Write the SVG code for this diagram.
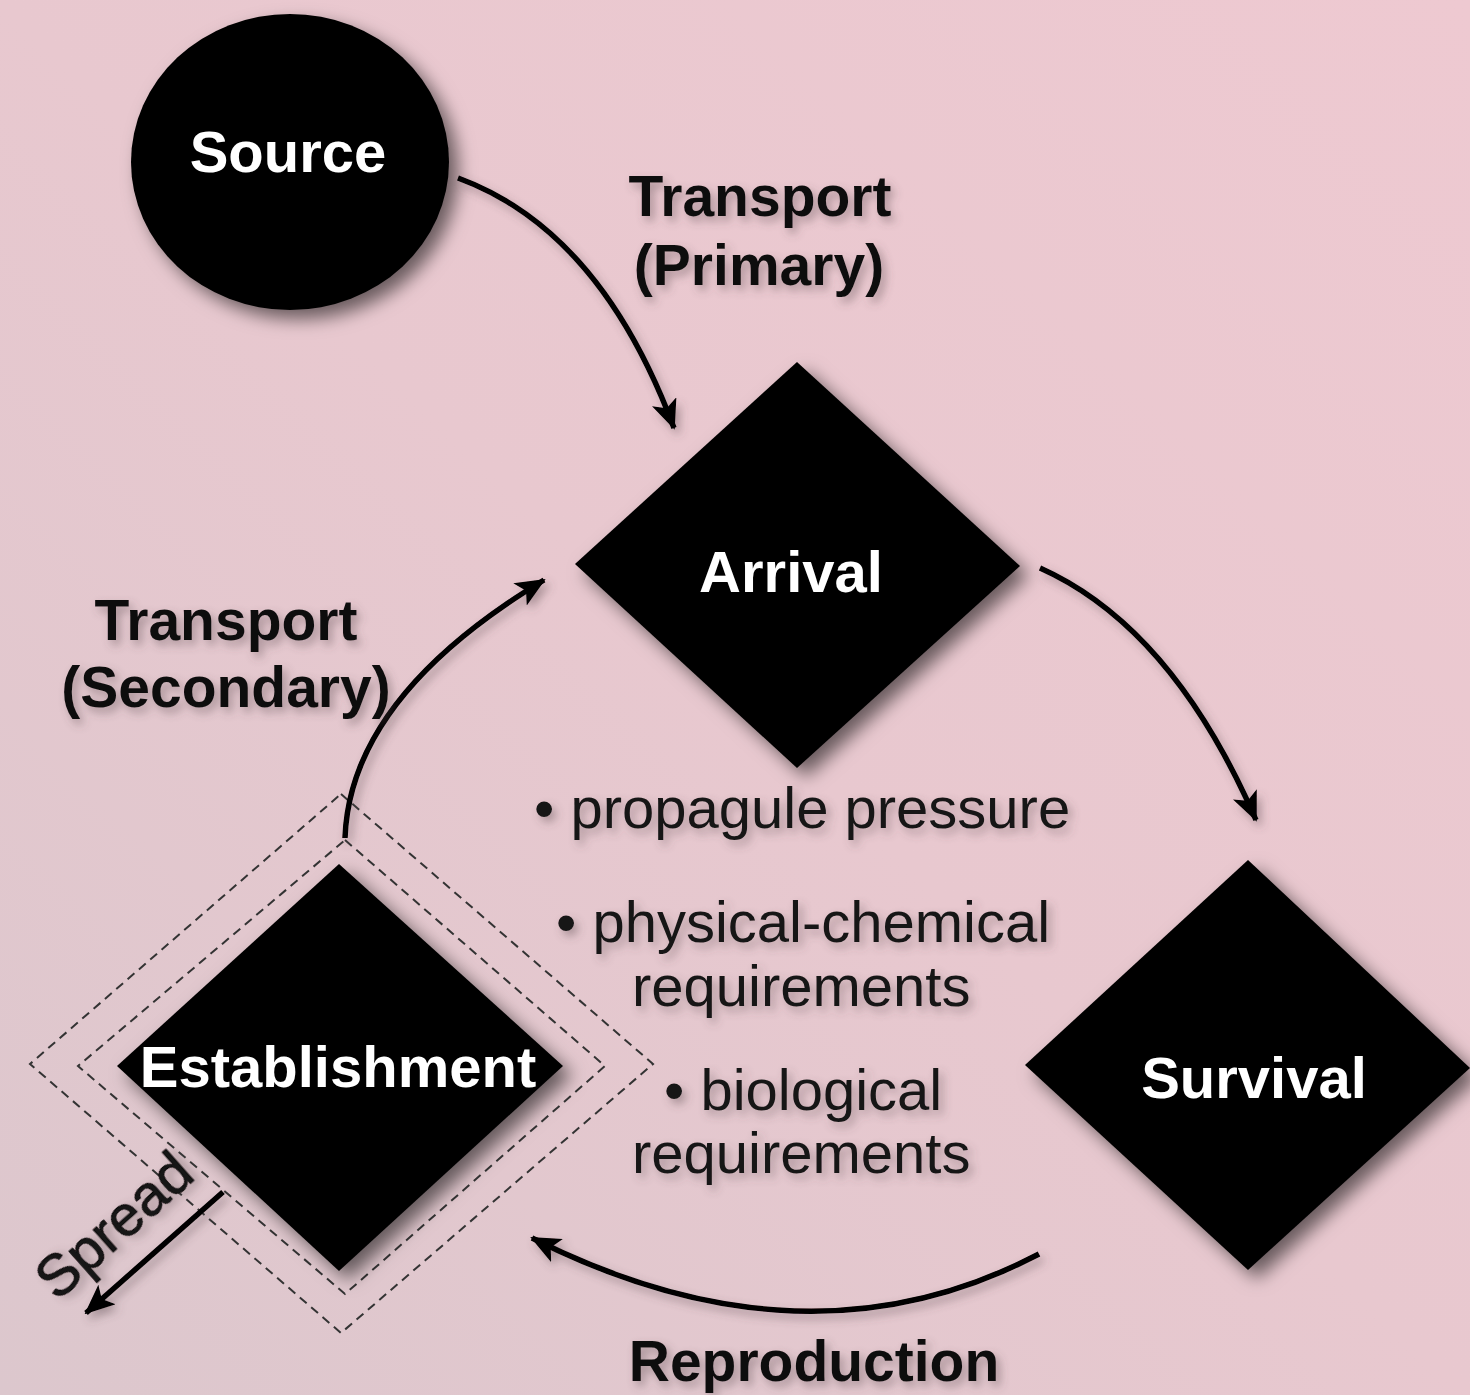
<svg xmlns="http://www.w3.org/2000/svg" width="1470" height="1395" viewBox="0 0 1470 1395">
<defs>
<linearGradient id="bg" x1="1" y1="0" x2="0" y2="1">
<stop offset="0" stop-color="#EEC9D1"/>
<stop offset="0.5" stop-color="#E8C8CF"/>
<stop offset="1" stop-color="#DCC7CD"/>
</linearGradient>
<filter id="sh" x="-20%" y="-20%" width="150%" height="150%">
<feDropShadow dx="9" dy="9" stdDeviation="9" flood-color="#000" flood-opacity="0.55"/>
</filter>
<filter id="tsh" x="-20%" y="-40%" width="140%" height="180%">
<feDropShadow dx="4" dy="5" stdDeviation="5" flood-color="#5a4a50" flood-opacity="0.45"/>
</filter>
<marker id="ah" markerUnits="userSpaceOnUse" markerWidth="30" markerHeight="26" refX="28" refY="13" orient="auto">
<path d="M0,0 L30,13 L0,26 L7,13 Z" fill="#000"/>
</marker>
<style>
.node{fill:#000;filter:url(#sh)}
.nl{font-family:"Liberation Sans",Arial,sans-serif;font-weight:bold;font-size:58px;fill:#fff;text-anchor:middle}
.lb{font-family:"Liberation Sans",Arial,sans-serif;font-weight:bold;font-size:57px;fill:#111;text-anchor:middle;filter:url(#tsh)}
.bt{font-family:"Liberation Sans",Arial,sans-serif;font-size:58px;fill:#151515;filter:url(#tsh)}
.cn{fill:none;stroke:#000;stroke-width:5.5;marker-end:url(#ah);filter:url(#tsh)}
.dash{fill:none;stroke:#333;stroke-width:2;stroke-dasharray:9 6}
</style>
</defs>
<rect width="1470" height="1395" fill="url(#bg)"/>

<g id="source">
<ellipse class="node" cx="290" cy="162" rx="159" ry="148"/>
<text class="nl" x="288" y="172">Source</text>
</g>

<g id="arrival">
<polygon class="node" points="797,362 1020,566 797,768 575,564"/>
<text class="nl" x="791" y="592">Arrival</text>
</g>

<g id="survival">
<polygon class="node" points="1248,860 1470,1068 1248,1270 1025,1065"/>
<text class="nl" x="1254" y="1098">Survival</text>
</g>

<g id="establishment">
<polygon class="dash" points="341,794 653,1064 341,1333 30,1064"/>
<polygon class="dash" points="345,840 605,1066 345,1294 78,1066"/>
<polygon class="node" points="339,864 563,1066 339,1271 117,1066"/>
<text class="nl" x="338" y="1087">Establishment</text>
</g>

<g id="connectors">
<path class="cn" d="M458,178 Q600,230 674,428"/>
<path class="cn" d="M1040,568 Q1172,627 1256,820"/>
<path class="cn" d="M1039,1254 Q806,1376 532,1238"/>
<path class="cn" d="M345,838 Q350,697 544,580"/>
<path class="cn" d="M223,1192 L86,1313"/>
</g>

<g id="labels">
<text class="lb" x="760" y="216">Transport</text>
<text class="lb" x="759" y="285">(Primary)</text>
<text class="lb" x="226" y="640">Transport</text>
<text class="lb" x="226" y="707">(Secondary)</text>
<text class="lb" x="814" y="1381">Reproduction</text>
<text class="bt" x="534" y="828">• propagule pressure</text>
<text class="bt" x="556" y="942">• physical-chemical</text>
<text class="bt" x="632" y="1006">requirements</text>
<text class="bt" x="664" y="1110">• biological</text>
<text class="bt" x="632" y="1173">requirements</text>
<text class="bt" x="57" y="1302" font-size="56" fill="#000" stroke="#000" stroke-width="0.8" transform="rotate(-41.6 57 1302)">Spread</text>
</g>
</svg>
